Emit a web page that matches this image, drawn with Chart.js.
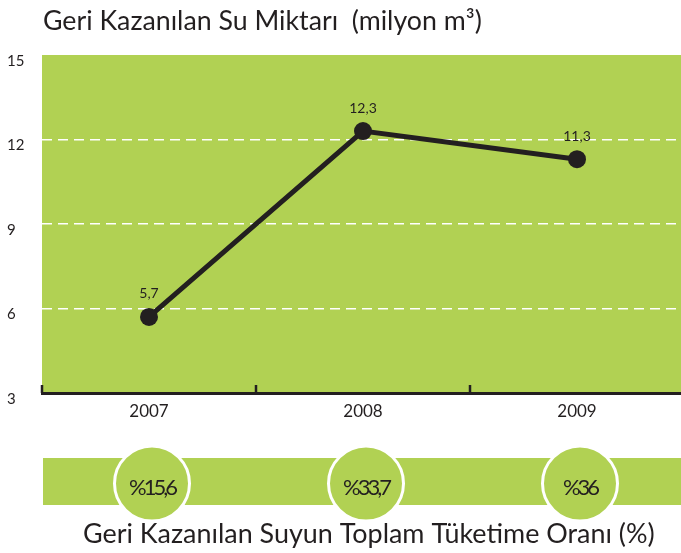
<!DOCTYPE html>
<html lang="tr">
<head>
<meta charset="utf-8">
<title>Geri Kazanılan Su Miktarı</title>
<script src="https://cdn.jsdelivr.net/npm/chart.js@4/dist/chart.umd.min.js"></script>
<style>
  html, body { margin: 0; padding: 0; background: #fff; overflow: hidden; }
  #wrap { width: 684px; height: 553px; }
</style>
</head>
<body>
<div id="wrap"><canvas id="waterChart" width="684" height="553"></canvas></div>
<script>
// chart data
const years = ["2007", "2008", "2009"];
const waterAmounts = [5.7, 12.3, 11.3]; // milyon m3
const amountLabels = ["5,7", "12,3", "11,3"];
const shareLabels = ["%15,6", "%33,7", "%36"];
const yTicks = [3, 6, 9, 12, 15];

const titleText = "Geri Kazanılan Su Miktarı  (milyon m³)";
const captionText = "Geri Kazanılan Suyun Toplam Tüketime Oranı (%)";

const GREEN = "#b1d153";
const DARK = "#231f20";
const FONT = "Lato, 'Open Sans', sans-serif";

// scale a font so the text fills a given width
function fitFont(ctx, text, width, base) {
  ctx.font = base + "px " + FONT;
  const w = ctx.measureText(text).width;
  return (base * width) / w;
}

const decorPlugin = {
  id: "decor",
  beforeDraw(chart) {
    const { ctx, chartArea } = chart;
    ctx.save();
    ctx.fillStyle = "#fff";
    ctx.fillRect(0, 0, chart.width, chart.height);
    ctx.fillStyle = GREEN;
    ctx.fillRect(chartArea.left, chartArea.top, chartArea.right - chartArea.left, chartArea.bottom - chartArea.top);
    ctx.restore();
  },
  afterDatasetsDraw(chart) {
    const { ctx } = chart;
    const meta = chart.getDatasetMeta(0);
    ctx.save();
    ctx.fillStyle = DARK;
    ctx.font = "14px " + FONT;
    ctx.textAlign = "center";
    ctx.textBaseline = "middle";
    meta.data.forEach((pt, i) => {
      ctx.fillText(amountLabels[i], pt.x, pt.y - 23);
    });
    ctx.restore();
  },
  afterDraw(chart) {
    const { ctx, chartArea } = chart;
    const x = chart.scales.x;
    ctx.save();

    // small tick marks on the x axis, between categories
    ctx.strokeStyle = DARK;
    ctx.lineWidth = 2.5;
    const bounds = [chartArea.left];
    for (let i = 0; i < years.length - 1; i++) {
      bounds.push((x.getPixelForValue(i) + x.getPixelForValue(i + 1)) / 2);
    }
    bounds.forEach((bx) => {
      ctx.beginPath();
      ctx.moveTo(bx, chartArea.bottom);
      ctx.lineTo(bx, chartArea.bottom - 8);
      ctx.stroke();
    });

    // title
    ctx.fillStyle = DARK;
    ctx.textAlign = "left";
    ctx.textBaseline = "alphabetic";
    ctx.font = fitFont(ctx, titleText, 439, 22) + "px " + FONT;
    ctx.fillText(titleText, 43, 30);

    // percentage band
    ctx.fillStyle = GREEN;
    ctx.fillRect(43, 458, chart.width - 43, 47);
    shareLabels.forEach((lab, i) => {
      const cx = x.getPixelForValue(i) + 3;
      ctx.beginPath();
      ctx.arc(cx, 483.5, 37.5, 0, Math.PI * 2);
      ctx.fillStyle = GREEN;
      ctx.fill();
      ctx.lineWidth = 3;
      ctx.strokeStyle = "#fff";
      ctx.stroke();
      ctx.fillStyle = DARK;
      ctx.font = "22px " + FONT;
      ctx.letterSpacing = "-3px";
      ctx.textAlign = "center";
      ctx.textBaseline = "middle";
      ctx.fillText(lab, cx, 488);
      ctx.letterSpacing = "0px";
    });

    // caption
    ctx.fillStyle = DARK;
    ctx.textAlign = "left";
    ctx.textBaseline = "alphabetic";
    ctx.font = fitFont(ctx, captionText, 572, 21) + "px " + FONT;
    ctx.fillText(captionText, 83, 543);

    ctx.restore();
  }
};

const chart = new Chart(document.getElementById("waterChart"), {
  type: "line",
  data: {
    labels: years,
    datasets: [{
      data: waterAmounts,
      borderColor: DARK,
      borderWidth: 5,
      pointRadius: 9,
      pointHoverRadius: 9,
      pointBackgroundColor: DARK,
      pointBorderWidth: 0,
      tension: 0,
      clip: false
    }]
  },
  options: {
    responsive: false,
    animation: false,
    events: [],
    layout: { autoPadding: false, padding: { top: 55, left: 7, right: 0, bottom: 0 } },
    plugins: {
      legend: { display: false },
      title: { display: false },
      tooltip: { enabled: false }
    },
    scales: {
      x: {
        offset: true,
        grid: { display: false, drawTicks: false },
        border: { display: true, color: DARK, width: 3 },
        ticks: { color: DARK, font: { family: FONT, size: 17 }, padding: 8, maxRotation: 0 },
        afterFit: (s) => { s.height = 160; }
      },
      y: {
        min: yTicks[0],
        max: yTicks[yTicks.length - 1],
        afterBuildTicks: (s) => { s.ticks = yTicks.map((v) => ({ value: v })); },
        grid: {
          drawTicks: false,
          lineWidth: 1.5,
          color: (c) => (c.tick && c.tick.value > yTicks[0] && c.tick.value < yTicks[yTicks.length - 1] ? "#ffffff" : "rgba(0,0,0,0)")
        },
        border: { display: false, dash: [10, 6] },
        ticks: {
          color: DARK,
          font: { family: FONT, size: 15 },
          crossAlign: "far",
          padding: 0,
          labelOffset: 6
        },
        afterFit: (s) => { s.width = 35; }
      }
    }
  },
  plugins: [decorPlugin]
});
</script>
</body>
</html>
